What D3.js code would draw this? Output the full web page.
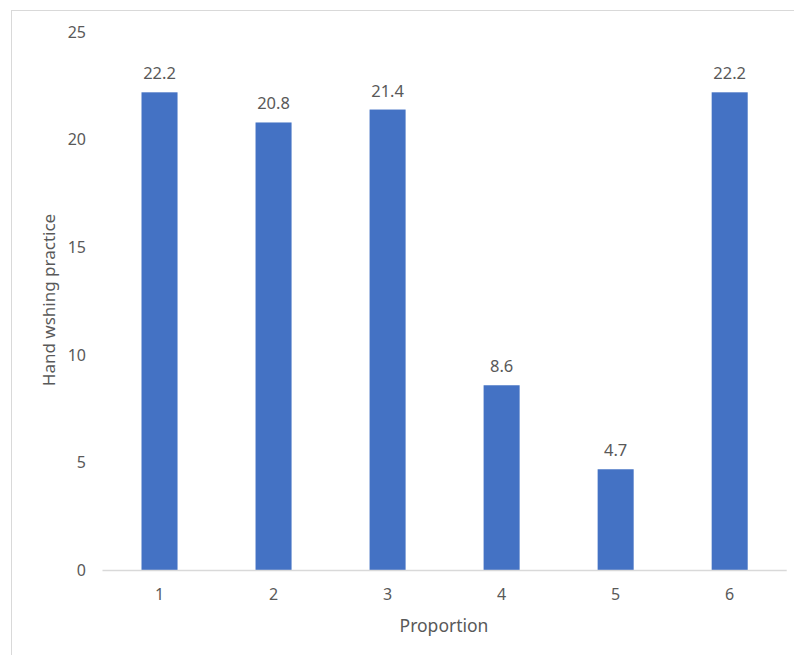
<!DOCTYPE html>
<html>
<head>
<meta charset="utf-8">
<script src="https://cdn.jsdelivr.net/npm/d3@7"></script>
<style>
  body { margin: 0; background: #fff; }
  svg { display: block; }
  text { font-family: "Noto Sans", "Open Sans", sans-serif; fill: #595959; }
</style>
</head>
<body>
<svg id="chart" width="794" height="655"></svg>
<script>
// Hand washing practice by proportion group
const categories = ["1", "2", "3", "4", "5", "6"];
const values = [22.2, 20.8, 21.4, 8.6, 4.7, 22.2];
const yTicks = [0, 5, 10, 15, 20, 25];

const svg = d3.select("#chart");
const W = 794, H = 655;
const margin = { left: 102.5, right: W - 786.7, top: 32, bottom: H - 570.5 };

// outer chart frame
svg.append("rect")
  .attr("x", 11.5).attr("y", 10.5)
  .attr("width", 900).attr("height", 900)
  .attr("fill", "none").attr("stroke", "#d9d9d9").attr("stroke-width", 1);

const x = d3.scaleBand()
  .domain(categories)
  .range([margin.left, W - margin.right])
  .paddingInner(0.684).paddingOuter(0.342);

const y = d3.scaleLinear().domain([0, 25]).range([H - margin.bottom, margin.top]);

// bars
svg.append("g").selectAll("rect")
  .data(values)
  .join("rect")
  .attr("x", (d, i) => x(categories[i]))
  .attr("y", d => y(d))
  .attr("width", x.bandwidth())
  .attr("height", d => y(0) - y(d))
  .attr("fill", "#4472c4");

// value labels
svg.append("g").selectAll("text")
  .data(values)
  .join("text")
  .attr("x", (d, i) => x(categories[i]) + x.bandwidth() / 2)
  .attr("y", d => y(d) - 13)
  .attr("text-anchor", "middle")
  .attr("font-size", "16.5px")
  .text(d => d.toFixed(1));

// y axis labels (no axis line)
const yAxis = d3.axisLeft(y).tickValues(yTicks).tickSize(0).tickPadding(0);
const gy = svg.append("g").attr("transform", "translate(86,0)").call(yAxis);
gy.select(".domain").remove();
gy.selectAll("text")
  .attr("font-size", "16px")
  .attr("font-family", "Noto Sans, Open Sans, sans-serif")
  .attr("fill", "#595959");

// x axis
const xAxis = d3.axisBottom(x).tickSize(0).tickPadding(18);
const gx = svg.append("g").attr("transform", `translate(0,${y(0)})`).call(xAxis);
gx.select(".domain").attr("stroke", "#d9d9d9").attr("stroke-width", 1.5)
  .attr("d", `M${margin.left},0H${W - margin.right}`);
gx.selectAll("text")
  .attr("font-size", "16px")
  .attr("font-family", "Noto Sans, Open Sans, sans-serif")
  .attr("fill", "#595959");

// axis titles
svg.append("text")
  .attr("transform", "translate(55,300) rotate(-90)")
  .attr("text-anchor", "middle")
  .attr("font-size", "17px")
  .text("Hand wshing practice");

svg.append("text")
  .attr("x", 444)
  .attr("y", 632)
  .attr("text-anchor", "middle")
  .attr("font-size", "17.5px")
  .text("Proportion");
</script>
</body>
</html>
